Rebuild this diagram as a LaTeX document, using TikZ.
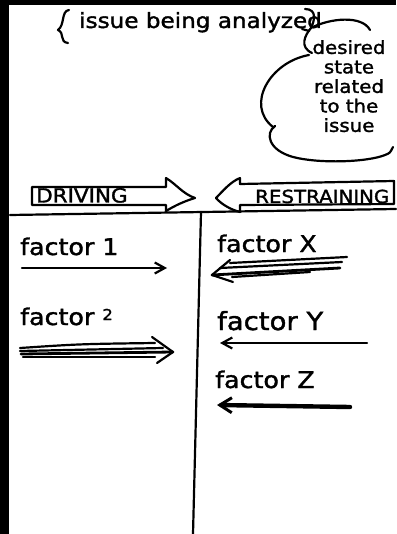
\documentclass[tikz,border=0pt]{standalone}
\usepackage{fontspec}
\newfontfamily\hand{DejaVu Sans}[FakeStretch=1.1,FakeBold=1.6]
\usetikzlibrary{arrows.meta}
\begin{document}
\begin{tikzpicture}[x=1pt,y=-1pt,
  ink/.style={line width=2.2pt, line cap=round, line join=round},
  lbl/.style={font=\hand\fontsize{23}{25}\selectfont, inner sep=0pt, anchor=base west},
  capslbl/.style={font=\hand\fontsize{18}{20}\selectfont, inner sep=0pt, anchor=base west},
  thinarrow/.style={ink, -{Straight Barb[length=10pt,width=11pt,line width=2.2pt]}},
  thickarrow/.style={line width=4.4pt, line cap=round, -{Straight Barb[length=12pt,width=15pt,line width=3pt]}}]
\useasboundingbox (0,0) rectangle (396,534);
\fill[white] (0,0) rectangle (396,534);
% black scan borders
\fill[black] (0,0) rectangle (9,534);
\fill[black] (0,0) rectangle (396,5);

% title with braces
\node[font=\hand\fontsize{21}{23}\selectfont, inner sep=0pt, anchor=base west] (issue) at (79,28) {issue being analyzed};
\draw[ink] (69,10) .. controls (61,11) and (65,25) .. (58,30) .. controls (65,33) and (59,42) .. (68,43);
\coordinate (bj) at (311,28);
\draw[ink] (305,9) .. controls (318,9) and (314,22) .. (bj);
\draw[ink] (bj) .. controls (305,35) and (299,47) .. (312,53);
\draw[ink] (302,29) -- (309,31);
% cloud
\draw[ink] (bj) .. controls (330,18) and (362,15) .. (370,30);
\draw[ink] (309,55) .. controls (270,62) and (245,105) .. (273,127);
\draw[ink] (275,126) .. controls (265,133) and (268,150) .. (293,157)
  .. controls (320,164) and (368,162) .. (385,155) .. controls (390,153) .. (393,147);
\node[font=\hand\fontsize{18}{19.5}\selectfont, inner sep=0pt, align=center, anchor=north] (desired) at (349,40)
  {desired\\state\\related\\to the\\issue};

% DRIVING hollow arrow
\draw[ink] (32,187) -- (166,187) -- (166,178)
  .. controls (176,184) and (183,194) .. (195,198)
  .. controls (185,201) and (176,205) .. (166,211) -- (166,205) -- (32,205) -- cycle;
\node[capslbl, font=\hand\fontsize{19.5}{21}\selectfont] (driving) at (36,202.5) {DRIVING};
% RESTRAINING hollow arrow
\draw[ink] (394,181) -- (240,184) -- (240,178)
  .. controls (230,182) and (222,192) .. (216,198)
  .. controls (222,205) and (232,210) .. (240,212) -- (240,205) -- (394,204) -- cycle;
\node[capslbl] (restraining) at (255,203) {RESTRAINING};

% rules
\coordinate (hl) at (10,215); \coordinate (hr) at (396,209);
\draw[ink] (hl) -- (hr);
\coordinate (vt) at (201,212); \coordinate (vb) at (193,534);
\draw[ink] (vt) -- (vb);

% driving factors
\node[lbl] (f1) at (20,255) {factor 1};
\coordinate (a1s) at (22,268); \coordinate (a1t) at (167,268);
\draw[thinarrow] (a1s) -- (a1t);

\node[lbl] (f2) at (20,325) {factor \raisebox{5pt}{\fontsize{15}{16}\selectfont 2}};
\coordinate (a2t) at (173,352);
\draw[ink] (20,348) .. controls (80,344) .. (155,343);
\draw[ink] (20,351) -- (163,348);
\draw[ink, line width=2.8pt] (21,354) -- (a2t);
\draw[ink] (23,357) -- (155,357);
\draw[ink] (152,337) -- (a2t) -- (157,363);

% restraining factors
\node[lbl] (fx) at (217,252) {factor X};
\coordinate (axt) at (212,275);
\draw[ink] (347,257) -- (230,263);
\draw[ink] (342,262) -- (220,268);
\draw[ink, line width=2.8pt] (340,268) -- (axt);
\draw[ink] (310,272) -- (232,277);
\draw[ink] (230,260) -- (axt) -- (233,282);

\node[lbl, font=\hand\fontsize{25}{27}\selectfont] (fy) at (217,330) {factor Y};
\coordinate (ays) at (367,343); \coordinate (ayt) at (220,343);
\draw[thinarrow] (ays) -- (ayt);

\node[lbl] (fz) at (215,388) {factor Z};
\coordinate (azs) at (350,407); \coordinate (azt) at (217,405);
\draw[thickarrow] (azs) -- (azt);
\end{tikzpicture}
\end{document}
